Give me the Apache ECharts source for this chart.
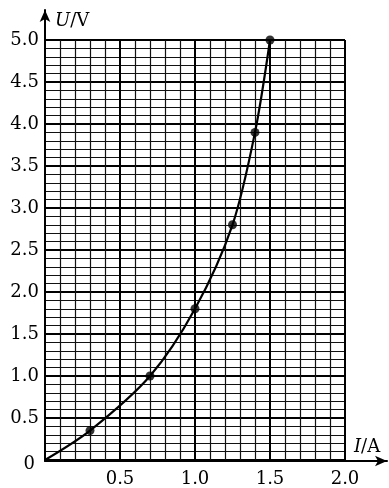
<!DOCTYPE html>
<html>
<head>
<meta charset="utf-8">
<script src="https://cdn.jsdelivr.net/npm/echarts@6/dist/echarts.min.js"></script>
<style>
  html, body { margin: 0; padding: 0; background: #fff; }
  #chart { width: 389px; height: 488px; }
</style>
</head>
<body>
<div id="chart"></div>
<script>
// measured points (I in A, U in V)
const currents = [0.3, 0.7, 1.0, 1.25, 1.4, 1.5]
const voltages = [0.35, 1.0, 1.8, 2.8, 3.9, 5.0]
// curve drawn through origin and the points
const curveI = [0, 0.3, 0.7, 1.0, 1.25, 1.4, 1.5]
const curveU = [0, 0.35, 1.0, 1.8, 2.8, 3.9, 5.0]

const FONT = '"DejaVu Serif", "Liberation Serif", serif'

const myChart = echarts.init(document.getElementById('chart'), null, {
  renderer: 'canvas',
})

const paperLine = { color: '#000', width: 2 }
const paperMinor = { color: '#111', width: 1.2 }

const option = {
  backgroundColor: '#fff',
  animation: false,
  grid: [
    // graph paper
    { left: 45, top: 40, width: 300, height: 421 },
    // axes with arrows
    { left: 45, top: 10, width: 342, height: 451 },
  ],
  xAxis: [
    {
      gridIndex: 0,
      type: 'value',
      min: 0,
      max: 2,
      interval: 0.5,
      name: '{i|I}/A',
      nameLocation: 'end',
      nameGap: 9,
      nameTextStyle: {
        fontFamily: FONT,
        fontSize: 18,
        color: '#000',
        verticalAlign: 'bottom',
        padding: [0, 0, 4, 0],
        rich: {
          i: { fontFamily: FONT, fontSize: 18, fontStyle: 'italic', color: '#000' },
        },
      },
      axisLine: { show: false },
      axisTick: { show: false },
      axisLabel: {
        margin: 10,
        fontFamily: FONT,
        fontSize: 18,
        color: '#000',
        formatter: function (v) {
          return v === 0 ? '' : v.toFixed(1)
        },
      },
      splitLine: { show: true, lineStyle: paperLine },
      minorTick: { show: false, splitNumber: 5 },
      minorSplitLine: { show: true, lineStyle: paperMinor },
    },
    {
      gridIndex: 1,
      type: 'value',
      min: 0,
      max: 1,
      axisLine: {
        show: true,
        symbol: ['none', 'arrow'],
        symbolSize: [8, 12],
        lineStyle: { color: '#000', width: 2 },
      },
      axisTick: { show: false },
      axisLabel: { show: false },
      splitLine: { show: false },
    },
  ],
  yAxis: [
    {
      gridIndex: 0,
      type: 'value',
      min: 0,
      max: 5,
      interval: 0.5,
      name: '{i|U}/V',
      nameLocation: 'end',
      nameGap: 10,
      nameTextStyle: {
        fontFamily: FONT,
        fontSize: 18,
        color: '#000',
        align: 'left',
        verticalAlign: 'bottom',
        padding: [0, 0, 0, 10],
        rich: {
          i: { fontFamily: FONT, fontSize: 18, fontStyle: 'italic', color: '#000' },
        },
      },
      axisLine: { show: false },
      axisTick: { show: false },
      axisLabel: {
        margin: 6,
        fontFamily: FONT,
        fontSize: 18,
        color: '#000',
        formatter: function (v) {
          return v === 0 ? '{z|0}' : v.toFixed(1)
        },
        rich: {
          z: { fontFamily: FONT, fontSize: 18, color: '#000', padding: [8, 4, 0, 0] },
        },
      },
      splitLine: { show: true, lineStyle: paperLine },
      minorTick: { show: false, splitNumber: 5 },
      minorSplitLine: { show: true, lineStyle: paperMinor },
    },
    {
      gridIndex: 1,
      type: 'value',
      min: 0,
      max: 1,
      axisLine: {
        show: true,
        symbol: ['none', 'arrow'],
        symbolSize: [8, 12],
        lineStyle: { color: '#000', width: 2 },
      },
      axisTick: { show: false },
      axisLabel: { show: false },
      splitLine: { show: false },
    },
  ],
  series: [
    {
      name: 'curve',
      type: 'line',
      xAxisIndex: 0,
      yAxisIndex: 0,
      data: curveI.map(function (x, i) {
        return [x, curveU[i]]
      }),
      smooth: 0.3,
      showSymbol: false,
      clip: false,
      lineStyle: { color: '#000', width: 2.2 },
      z: 5,
    },
    {
      name: 'points',
      type: 'scatter',
      xAxisIndex: 0,
      yAxisIndex: 0,
      data: currents.map(function (x, i) {
        return [x, voltages[i]]
      }),
      symbol: 'circle',
      symbolSize: 9,
      clip: false,
      itemStyle: { color: '#000' },
      z: 6,
    },
  ],
}

myChart.setOption(option)
</script>
</body>
</html>
